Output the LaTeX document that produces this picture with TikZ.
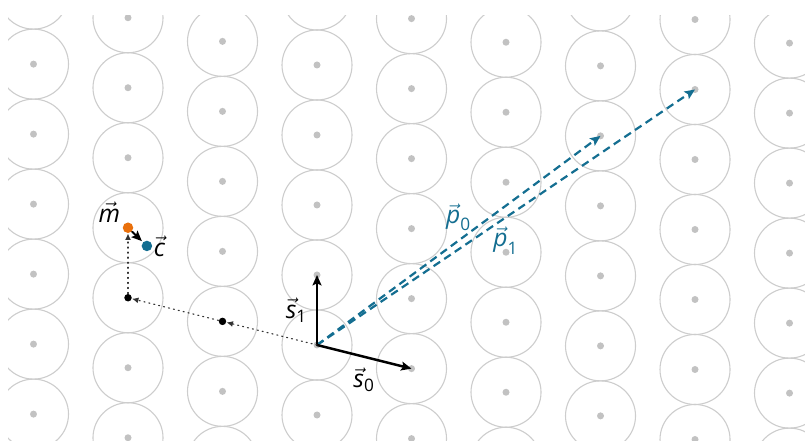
\documentclass[tikz,border=0pt]{standalone}
\usepackage{amsmath}
\usepackage{fontspec}
\setmainfont{Open Sans}
\usetikzlibrary{arrows.meta, calc, positioning}

\definecolor{latgray}{HTML}{CDCDCD}
\definecolor{dotgray}{HTML}{C2C2C2}
\definecolor{pteal}{HTML}{146E91}
\definecolor{morange}{HTML}{E9700C}

\newcommand{\lvec}[2]{$\vec{\textit{#1}}_{\text{#2}}$}

\begin{document}
\begin{tikzpicture}[>={Stealth[length=4.2pt, width=3.6pt, inset=0.8pt]},
    font=\fontsize{10}{12}\selectfont, line cap=round, line join=round,
    ring/.style={latgray, line width=0.45pt},
    basis/.style={->, black, line width=1pt},
    probe/.style={->, pteal, line width=0.9pt, line cap=butt, dash pattern=on 3.2pt off 2pt},
    walk/.style={-{Latex[length=2.6pt, width=2.4pt]}, black!80, line width=0.45pt,
                 dash pattern=on 0.45pt off 1.6pt},
    stepdot/.style={circle, fill=black, inner sep=0pt, minimum size=0.106cm},
    bigdot/.style={circle, inner sep=0pt, minimum size=0.15cm}]

  \useasboundingbox (-4.5286,-1.3714) rectangle (6.9714,4.9286);

  %% ---- lattice: s0 = (1.35,-0.3375), s1 = (0,1) ----
  \begin{scope}
    \clip (-4.414,-1.3714) rectangle (6.9714,4.714);
    \foreach \i in {-4,...,6}
      \foreach \j in {-3,...,8} {
        \draw[ring]    ({\i*1.35},{-\i*0.3375+\j}) circle (0.5);
        \fill[dotgray] ({\i*1.35},{-\i*0.3375+\j}) circle (0.05);
      }
  \end{scope}

  %% ---- lattice points used below ----
  \coordinate (O)  at (0,0);
  \coordinate (S0) at (1.35,-0.3375);
  \coordinate (S1) at (0,1);
  \coordinate (P0) at (4.05,2.9875);   %% 3 s0 + 4 s1
  \coordinate (P1) at (5.4,3.65);      %% 4 s0 + 5 s1

  %% ---- search vectors p0, p1 (dashed) ----
  \draw[probe] (O) -- (P0) node[pos=0.5, above=0pt, pteal] {\lvec{p}{0}};
  \draw[probe] (O) -- (P1) node[pos=0.5, below=0pt, pteal] {\lvec{p}{1}};

  %% ---- basis s0, s1 ----
  \draw[basis] (O) -- (S0) node[pos=0.5, below=0.5pt] {\lvec{s}{0}};
  \draw[basis] (O) -- (S1) node[pos=0.5, left=0pt] {\lvec{s}{1}};

  %% ---- walk back to the nearest point ----
  \node[stepdot] (d1) at (-1.35,0.3375) {};
  \node[stepdot] (d2) at (-2.7,0.675) {};
  \node[bigdot, fill=morange] (m) at (-2.7,1.675) {};
  \node[bigdot, fill=pteal]   (c) at (-2.43,1.415) {};

  \draw[walk] (O)  -- (d1);
  \draw[walk] (d1) -- (d2);
  \draw[walk] (d2) -- (m);
  \draw[->, black, line width=0.8pt, shorten >=0.5pt] (m) -- (c);

  %% ---- labels m, c ----
  \node[above left=-3pt and -2pt of m] (mlab) {$\vec{\textit{m}}$};
  \node[right=-3pt of c]               (clab) {$\vec{\textit{c}}$};

\end{tikzpicture}
\end{document}
